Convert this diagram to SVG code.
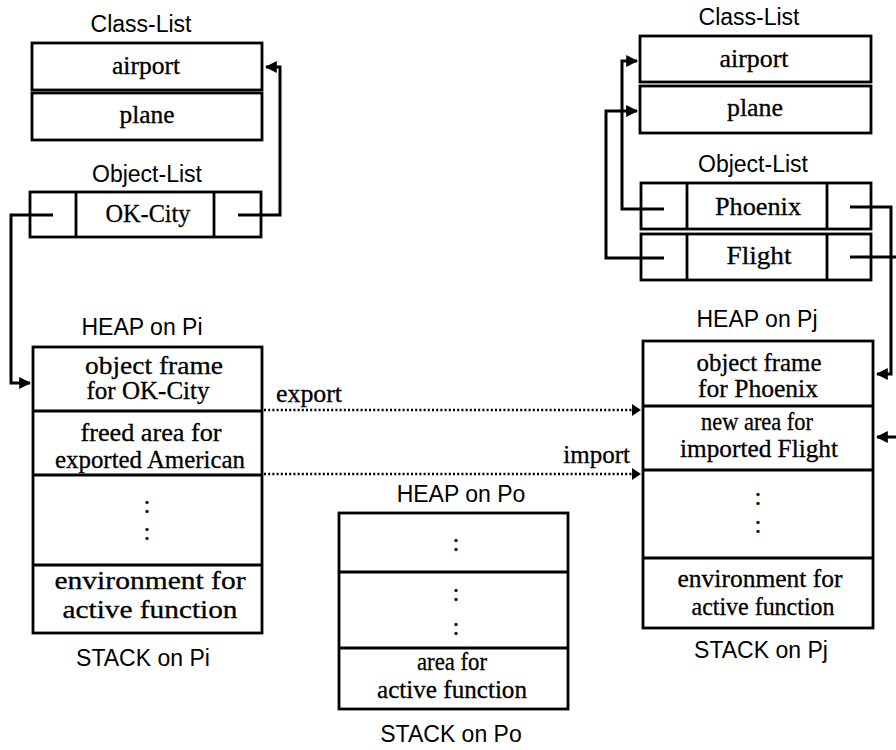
<svg xmlns="http://www.w3.org/2000/svg" width="896" height="750" viewBox="0 0 896 750">
<defs>
<style>
.box{fill:#fff;stroke:#000;stroke-width:2.8}
.ln{fill:none;stroke:#000;stroke-width:2.8}
.conn{fill:none;stroke:#000;stroke-width:3}
.dot{fill:none;stroke:#000;stroke-width:2.4;stroke-dasharray:2 2.2}
.t{font-family:"Liberation Serif","Times New Roman",serif;font-size:25px;fill:#000;text-anchor:middle;stroke:#000;stroke-width:0.3}
.lbl{font-family:"Liberation Serif","Times New Roman",serif;font-size:25px;fill:#000;stroke:#000;stroke-width:0.3}
.s{font-family:"Liberation Sans",Arial,sans-serif;font-size:23px;fill:#000;text-anchor:middle}
</style>
<marker id="ah" viewBox="0 0 10 10" refX="9" refY="5" markerWidth="4" markerHeight="4" orient="auto" markerUnits="strokeWidth">
<path d="M0,0 L10,5 L0,10 Z" fill="#000"/>
</marker>
</defs>
<rect width="896" height="750" fill="#fff"/>

<g id="left-class-list">
<text class="s" x="141" y="32" font-size="24">Class-List</text>
<rect class="box" x="32" y="43" width="230" height="47"/>
<text class="t" x="146" y="74" textLength="68" lengthAdjust="spacingAndGlyphs">airport</text>
<rect class="box" x="32" y="93" width="230" height="47"/>
<text class="t" x="147" y="123" textLength="55" lengthAdjust="spacingAndGlyphs">plane</text>
</g>

<g id="left-object-list">
<text class="s" x="147" y="182" font-size="24">Object-List</text>
<rect class="box" x="30" y="192" width="231" height="45"/>
<line class="ln" x1="76" y1="192" x2="76" y2="237"/>
<line class="ln" x1="214" y1="192" x2="214" y2="237"/>
<text class="t" x="148" y="222" textLength="85" lengthAdjust="spacingAndGlyphs">OK-City</text>
</g>

<g id="heap-pi">
<text class="s" x="142" y="335">HEAP on Pi</text>
<rect class="box" x="33" y="347" width="229" height="286"/>
<line class="ln" x1="33" y1="411" x2="262" y2="411"/>
<line class="ln" x1="33" y1="475" x2="262" y2="475"/>
<line class="ln" x1="33" y1="565" x2="262" y2="565"/>
<text class="t" x="154" y="374" textLength="138" lengthAdjust="spacingAndGlyphs">object frame</text>
<text class="t" x="148" y="399" textLength="123" lengthAdjust="spacingAndGlyphs">for OK-City</text>
<text class="t" x="151" y="441" textLength="141" lengthAdjust="spacingAndGlyphs">freed area for</text>
<text class="t" x="150" y="468" textLength="190" lengthAdjust="spacingAndGlyphs">exported American</text>
<text class="t" x="147" y="513">:</text>
<text class="t" x="147" y="540">:</text>
<text class="t" x="150" y="589" textLength="191" lengthAdjust="spacingAndGlyphs">environment for</text>
<text class="t" x="150" y="618" textLength="175" lengthAdjust="spacingAndGlyphs">active function</text>
<text class="s" x="143" y="666">STACK on Pi</text>
</g>

<g id="right-class-list">
<text class="s" x="749" y="25" font-size="24">Class-List</text>
<rect class="box" x="640" y="36" width="231" height="46"/>
<text class="t" x="754" y="67" textLength="69" lengthAdjust="spacingAndGlyphs">airport</text>
<rect class="box" x="640" y="86" width="231" height="47"/>
<text class="t" x="755" y="116" textLength="56" lengthAdjust="spacingAndGlyphs">plane</text>
</g>

<g id="right-object-list">
<text class="s" x="753" y="172" font-size="24">Object-List</text>
<rect class="box" x="641" y="183" width="230" height="46"/>
<line class="ln" x1="687" y1="183" x2="687" y2="229"/>
<line class="ln" x1="827" y1="183" x2="827" y2="229"/>
<text class="t" x="758" y="215" textLength="86" lengthAdjust="spacingAndGlyphs">Phoenix</text>
<rect class="box" x="641" y="234" width="230" height="46"/>
<line class="ln" x1="687" y1="234" x2="687" y2="280"/>
<line class="ln" x1="827" y1="234" x2="827" y2="280"/>
<text class="t" x="759" y="264" textLength="65" lengthAdjust="spacingAndGlyphs">Flight</text>
</g>

<g id="heap-pj">
<text class="s" x="757" y="327">HEAP on Pj</text>
<rect class="box" x="643" y="341" width="230" height="287"/>
<line class="ln" x1="643" y1="406" x2="873" y2="406"/>
<line class="ln" x1="643" y1="470" x2="873" y2="470"/>
<line class="ln" x1="643" y1="558" x2="873" y2="558"/>
<text class="t" x="759" y="371" textLength="125" lengthAdjust="spacingAndGlyphs">object frame</text>
<text class="t" x="758" y="397" textLength="120" lengthAdjust="spacingAndGlyphs">for Phoenix</text>
<text class="t" x="757" y="430" textLength="112" lengthAdjust="spacingAndGlyphs">new area for</text>
<text class="t" x="759" y="457" textLength="158" lengthAdjust="spacingAndGlyphs">imported Flight</text>
<text class="t" x="758" y="505">:</text>
<text class="t" x="758" y="533">:</text>
<text class="t" x="760" y="587" textLength="165" lengthAdjust="spacingAndGlyphs">environment for</text>
<text class="t" x="763" y="615" textLength="143" lengthAdjust="spacingAndGlyphs">active function</text>
<text class="s" x="761" y="658">STACK on Pj</text>
</g>

<g id="heap-po">
<text class="s" x="461" y="502">HEAP on Po</text>
<rect class="box" x="339" y="513" width="229" height="196"/>
<line class="ln" x1="339" y1="572" x2="568" y2="572"/>
<line class="ln" x1="339" y1="648" x2="568" y2="648"/>
<text class="t" x="456" y="551">:</text>
<text class="t" x="456" y="601">:</text>
<text class="t" x="456" y="635">:</text>
<text class="t" x="452" y="670" textLength="70" lengthAdjust="spacingAndGlyphs">area for</text>
<text class="t" x="452" y="698" textLength="150" lengthAdjust="spacingAndGlyphs">active function</text>
<text class="s" x="451" y="742">STACK on Po</text>
</g>

<g id="connectors">
<path class="conn" d="M238,215 H280 V67 H266" marker-end="url(#ah)"/>
<path class="conn" d="M53,215 H11 V383 H30" marker-end="url(#ah)"/>
<path class="conn" d="M664,209 H622 V61 H637" marker-end="url(#ah)"/>
<path class="conn" d="M664,258 H606 V111 H637" marker-end="url(#ah)"/>
<path class="conn" d="M850,207 H891 V374 H877" marker-end="url(#ah)"/>
<path class="conn" d="M850,257 H910 V437 H877" marker-end="url(#ah)"/>
<line class="dot" x1="264" y1="410" x2="632" y2="410"/>
<path d="M632,404 L641,410 L632,416 Z" fill="#000"/>
<line class="dot" x1="264" y1="474" x2="632" y2="474"/>
<path d="M632,468 L641,474 L632,480 Z" fill="#000"/>
<text class="lbl" x="276" y="402" textLength="66" lengthAdjust="spacingAndGlyphs">export</text>
<text class="lbl" x="630" y="463" text-anchor="end">import</text>
</g>
</svg>
